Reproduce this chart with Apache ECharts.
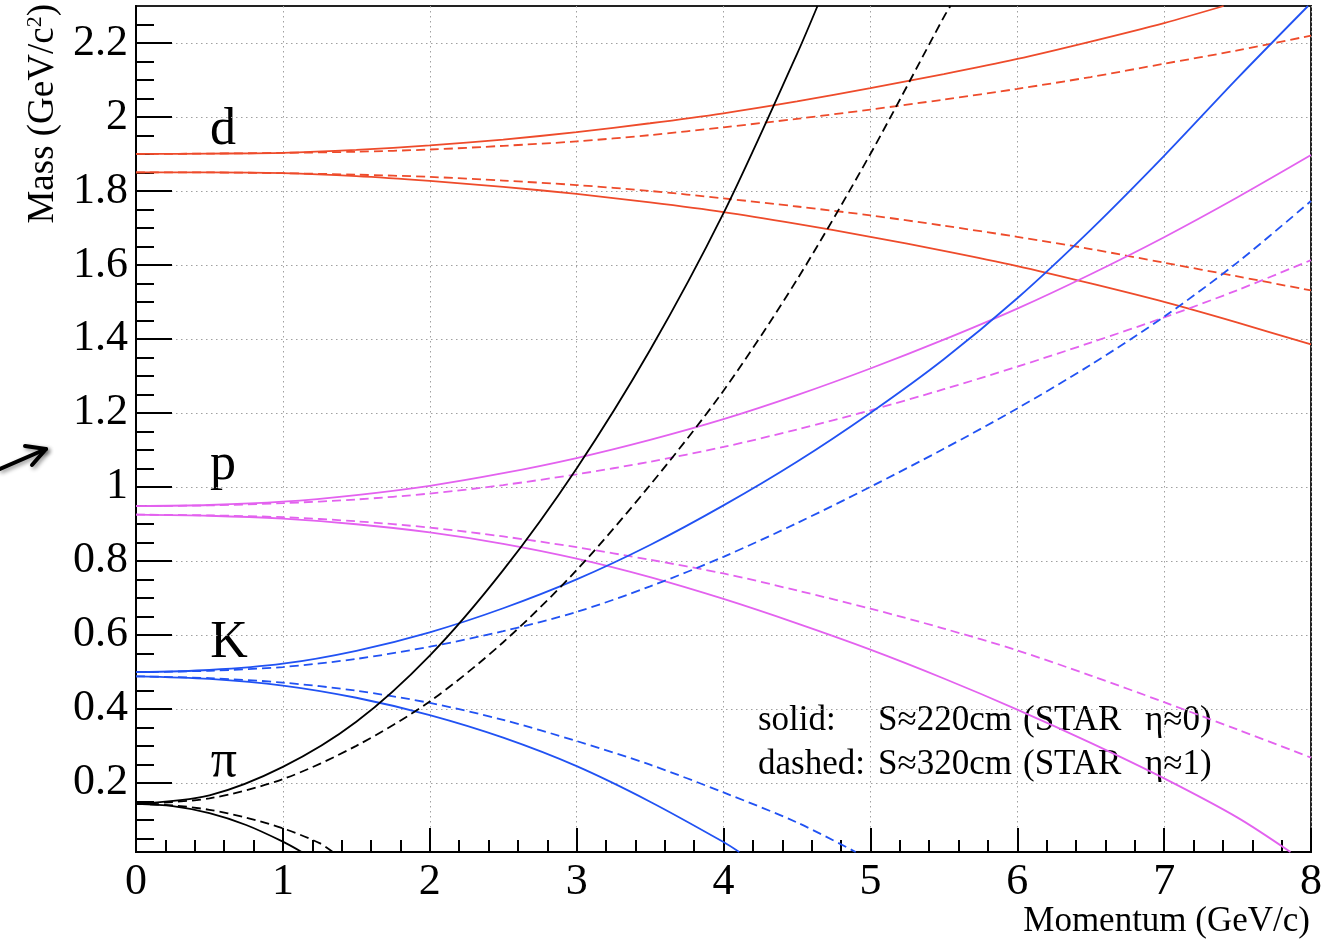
<!DOCTYPE html>
<html>
<head>
<meta charset="utf-8">
<script src="https://cdn.jsdelivr.net/npm/echarts@6.0.0/dist/echarts.min.js"></script>
<style>
html,body{margin:0;padding:0;background:#fff;}
#chart{width:1332px;height:939px;}
</style>
</head>
<body>
<div id="chart"></div>
<script>
// ---------------- data (momentum GeV/c, mass GeV/c^2) ----------------
const xTickLabels = ['0','1','2','3','4','5','6','7','8'];
const yMajorTicks = [0.2, 0.4, 0.6, 0.8, 1.0, 1.2, 1.4, 1.6, 1.8, 2.0, 2.2];
const yTickLabels = ['0.2','0.4','0.6','0.8','1','1.2','1.4','1.6','1.8','2','2.2'];

// deuteron (red)
const dSolidUp  = [[0,1.900],[0.5,1.901],[1,1.903],[1.5,1.911],[2,1.923],[2.5,1.939],[3,1.959],[3.5,1.983],[4,2.010],[4.5,2.042],[5,2.078],[5.5,2.116],[6,2.157],[6.5,2.204],[7,2.254],[7.405,2.300]];
const dSolidLow = [[0,1.850],[0.5,1.850],[1,1.848],[1.5,1.840],[2,1.827],[2.5,1.811],[3,1.792],[3.5,1.769],[4,1.743],[4.5,1.711],[5,1.676],[5.5,1.638],[6,1.597],[6.5,1.550],[7,1.500],[7.5,1.444],[8,1.385]];
const dDashUp   = [[0,1.900],[0.5,1.901],[1,1.903],[1.5,1.906],[2,1.912],[2.5,1.922],[3,1.934],[3.5,1.951],[4,1.972],[4.5,1.995],[5,2.020],[5.5,2.047],[6,2.076],[6.5,2.108],[7,2.144],[7.5,2.180],[8,2.220]];
const dDashLow  = [[0,1.850],[0.5,1.850],[1,1.848],[1.5,1.844],[2,1.838],[2.5,1.828],[3,1.816],[3.5,1.800],[4,1.780],[4.5,1.758],[5,1.734],[5.5,1.706],[6,1.676],[6.5,1.643],[7,1.606],[7.5,1.569],[8,1.531]];

// proton (magenta)
const pSolidUp  = [[0,0.948],[0.5,0.951],[1,0.960],[1.5,0.978],[2,1.003],[2.5,1.037],[3,1.078],[3.5,1.127],[4,1.183],[4.5,1.248],[5,1.320],[5.5,1.398],[6,1.482],[6.5,1.575],[7,1.675],[7.5,1.783],[8,1.897]];
const pSolidLow = [[0,0.925],[0.5,0.922],[1,0.914],[1.5,0.899],[2,0.877],[2.5,0.846],[3,0.806],[3.5,0.756],[4,0.697],[4.5,0.631],[5,0.560],[5.5,0.482],[6,0.398],[6.5,0.308],[7,0.212],[7.5,0.106],[7.86,0.013]];
const pDashUp   = [[0,0.948],[0.5,0.950],[1,0.956],[1.5,0.966],[2,0.982],[2.5,1.005],[3,1.034],[3.5,1.068],[4,1.108],[4.5,1.155],[5,1.207],[5.5,1.264],[6,1.325],[6.5,1.390],[7,1.458],[7.5,1.532],[8,1.613]];
const pDashLow  = [[0,0.925],[0.5,0.923],[1,0.918],[1.5,0.907],[2,0.890],[2.5,0.866],[3,0.837],[3.5,0.803],[4,0.766],[4.5,0.720],[5,0.671],[5.5,0.617],[6,0.558],[6.5,0.490],[7,0.418],[7.5,0.344],[8,0.268]];

// kaon (blue)
const kSolidUp  = [[0,0.499],[0.5,0.505],[1,0.522],[1.5,0.557],[2,0.607],[2.5,0.672],[3,0.750],[3.5,0.843],[4,0.950],[4.5,1.068],[5,1.200],[5.5,1.345],[6,1.510],[6.5,1.695],[7,1.895],[7.5,2.105],[7.98,2.300]];
const kSolidLow = [[0,0.488],[0.5,0.481],[1,0.463],[1.5,0.430],[2,0.383],[2.5,0.322],[3,0.245],[3.5,0.149],[4,0.040],[4.107,0.013]];
const kDashUp   = [[0,0.499],[0.5,0.503],[1,0.513],[1.5,0.535],[2,0.568],[2.5,0.610],[3,0.662],[3.5,0.731],[4,0.811],[4.5,0.902],[5,1.000],[5.5,1.103],[6,1.212],[6.5,1.330],[7,1.460],[7.5,1.607],[8,1.773]];
const kDashLow  = [[0,0.488],[0.5,0.483],[1,0.471],[1.5,0.449],[2,0.416],[2.5,0.370],[3,0.313],[3.5,0.249],[4,0.174],[4.5,0.093],[4.9,0.013]];

// pion (black)
const piSolidUp  = [[0,0.143],[0.5,0.166],[1,0.243],[1.5,0.365],[2,0.544],[2.5,0.775],[3,1.050],[3.5,1.370],[4,1.740],[4.5,2.170],[4.64,2.300]];
const piSolidLow = [[0,0.143],[0.25,0.137],[0.5,0.118],[0.75,0.086],[1,0.041],[1.128,0.013]];
const piDashUp   = [[0,0.143],[0.5,0.158],[1,0.210],[1.5,0.300],[2,0.420],[2.5,0.580],[3,0.775],[3.5,1.005],[4,1.260],[4.5,1.560],[5,1.900],[5.5,2.270],[5.545,2.300]];
const piDashLow  = [[0,0.143],[0.25,0.139],[0.5,0.127],[0.75,0.106],[1,0.077],[1.25,0.037],[1.34,0.013]];

const particleNames = ['d', 'p', 'K', 'π'];
const legendKeys = ['solid:', 'dashed:'];
const legendParts = [['S≈220cm', '(STAR', 'η≈0)'], ['S≈320cm', '(STAR', 'η≈1)']];
const xTitle = 'Momentum (GeV/c)';
const yTitle = 'Mass (GeV/c{s|2})';

// ---------------- chart ----------------
const Y_MIN = 0.013, Y_MAX = 2.3;
const FONT = '"Liberation Serif", "DejaVu Serif", serif';
const RED = '#ee4b2b', BLUE = '#2152f3', MAG = '#e362ef', BLK = '#000000';
const DASH = [9, 5];

const yMinorTicks = [];
for (let i = 1; i <= 45; i++) yMinorTicks.push(Math.round(i * 5) / 100);

const curves = [
  { d: dSolidUp, c: RED, t: 'solid' }, { d: dSolidLow, c: RED, t: 'solid' },
  { d: dDashUp, c: RED, t: DASH }, { d: dDashLow, c: RED, t: DASH },
  { d: pSolidUp, c: MAG, t: 'solid' }, { d: pSolidLow, c: MAG, t: 'solid' },
  { d: pDashUp, c: MAG, t: DASH }, { d: pDashLow, c: MAG, t: DASH },
  { d: kSolidUp, c: BLUE, t: 'solid' }, { d: kSolidLow, c: BLUE, t: 'solid' },
  { d: kDashUp, c: BLUE, t: DASH }, { d: kDashLow, c: BLUE, t: DASH },
  { d: piSolidUp, c: BLK, t: 'solid' }, { d: piSolidLow, c: BLK, t: 'solid' },
  { d: piDashUp, c: BLK, t: DASH }, { d: piDashLow, c: BLK, t: DASH }
];

const gridLine = { show: true, lineStyle: { color: '#a0a0a0', width: 1, type: [1.5, 3.5] } };
const tickStyle = { color: '#000', width: 2 };

const labelFor = v => {
  for (let i = 0; i < yMajorTicks.length; i++) if (Math.abs(yMajorTicks[i] - v) < 1e-6) return yTickLabels[i];
  return '';
};

const particleStyle = { fill: '#000', font: '52px ' + FONT, align: 'center', verticalAlign: 'middle' };
const particlePos = [[223, 130], [223, 465], [229, 643], [224, 762]];

const graphic = [];
particleNames.forEach((n, i) => {
  graphic.push({ type: 'text', x: particlePos[i][0], y: particlePos[i][1], silent: true,
    style: Object.assign({ text: n }, particleStyle) });
});
const legendY = [721, 765];
const legendPartX = [878, 1023, 1145];
const legStyle = { fill: '#000', font: '35px ' + FONT, align: 'left', verticalAlign: 'middle' };
legendKeys.forEach((k, i) => {
  graphic.push({ type: 'text', x: 758, y: legendY[i], silent: true,
    style: Object.assign({ text: k }, legStyle) });
  legendParts[i].forEach((t, j) => {
    graphic.push({ type: 'text', x: legendPartX[j], y: legendY[i], silent: true,
      style: Object.assign({ text: t }, legStyle) });
  });
});
graphic.push({ type: 'text', x: 1310, y: 922, silent: true,
  style: { text: xTitle, fill: '#000', font: '35px ' + FONT, align: 'right', verticalAlign: 'middle' } });
graphic.push({ type: 'text', x: 43, y: 4, rotation: Math.PI / 2, silent: true,
  style: { text: yTitle, fill: '#000', font: '37px ' + FONT, align: 'right', verticalAlign: 'middle',
    rich: { s: { fontSize: 22, fontFamily: FONT, verticalAlign: 'top', fill: '#000', padding: [0, 0, 14, 0] } } } });
// stray arrow at the left edge
graphic.push({ type: 'polyline', silent: true,
  shape: { points: [[0, 469], [46, 449]] },
  style: { stroke: '#000', lineWidth: 4, lineCap: 'round', shadowBlur: 4, shadowColor: 'rgba(0,0,0,0.45)', shadowOffsetX: 2, shadowOffsetY: 2 } });
graphic.push({ type: 'polyline', silent: true,
  shape: { points: [[25, 446], [46, 449], [32, 465]] },
  style: { stroke: '#000', lineWidth: 4, lineCap: 'round', lineJoin: 'round', fill: null, shadowBlur: 4, shadowColor: 'rgba(0,0,0,0.45)', shadowOffsetX: 2, shadowOffsetY: 2 } });

const option = {
  animation: false,
  backgroundColor: '#ffffff',
  grid: { left: 136, right: 21, top: 6, bottom: 87, show: true, borderColor: '#222', borderWidth: 2, backgroundColor: 'transparent' },
  xAxis: {
    type: 'value', min: 0, max: 8, interval: 1,
    axisLine: { show: true, onZero: false, lineStyle: { color: '#000', width: 2 } },
    axisTick: { show: true, inside: true, length: 24, lineStyle: tickStyle },
    minorTick: { show: true, splitNumber: 5, length: 12, lineStyle: tickStyle },
    axisLabel: { color: '#000', fontFamily: FONT, fontSize: 44, lineHeight: 44, margin: 8,
      formatter: v => xTickLabels[Math.round(v)] },
    splitLine: gridLine
  },
  yAxis: [
    {
      type: 'value', min: Y_MIN, max: Y_MAX, position: 'left', offset: 0,
      axisLine: { show: true, onZero: false, lineStyle: { color: '#000', width: 2 } },
      axisTick: { show: true, inside: true, length: 36, lineStyle: tickStyle, customValues: yMajorTicks },
      axisLabel: { color: '#000', fontFamily: FONT, fontSize: 44, lineHeight: 44, margin: 8,
        padding: [10, 0, 0, 0], customValues: yMajorTicks, formatter: labelFor },
      splitLine: gridLine
    },
    {
      type: 'value', min: Y_MIN, max: Y_MAX, position: 'left', offset: 0,
      axisLine: { show: false },
      axisTick: { show: true, inside: true, length: 18, lineStyle: tickStyle, customValues: yMinorTicks },
      axisLabel: { show: false },
      splitLine: { show: false }
    }
  ],
  series: curves.map(c => ({
    type: 'line', data: c.d, yAxisIndex: 0, symbol: 'none', showSymbol: false,
    smooth: 0.3, clip: true, silent: true,
    lineStyle: { color: c.c, width: 1.8, type: c.t }
  })),
  graphic: graphic
};

const chart = echarts.init(document.getElementById('chart'), null, { renderer: 'canvas' });
chart.setOption(option);
</script>
</body>
</html>
